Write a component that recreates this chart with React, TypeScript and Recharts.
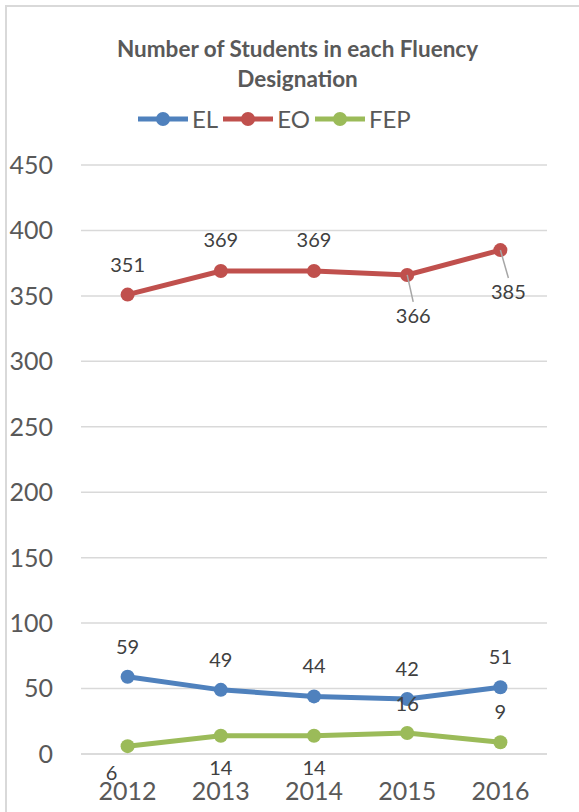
import React from "react";
import { LineChart, Line, XAxis, YAxis, CartesianGrid, Legend, LabelList } from "recharts";

const years = ["2012", "2013", "2014", "2015", "2016"];
const elValues = [59, 49, 44, 42, 51];
const eoValues = [351, 369, 369, 366, 385];
const fepValues = [6, 14, 14, 16, 9];
const yTicks = [0, 50, 100, 150, 200, 250, 300, 350, 400, 450];

const data = years.map((year, i) => ({
  year,
  EL: elValues[i],
  EO: eoValues[i],
  FEP: fepValues[i],
}));

const FONT = "Lato, 'Open Sans', sans-serif";

const series = [
  { key: "EL", color: "#4F81BD" },
  { key: "EO", color: "#C0504D" },
  { key: "FEP", color: "#9BBB59" },
];

// label placement per series, [dx, dy, leader line]
const labelPlacement: Record<string, [number, number, boolean][]> = {
  EL: [[0, -31, false], [0, -31, false], [0, -31, false], [0, -31, false], [0, -31, false]],
  EO: [[0, -31, false], [0, -32, false], [0, -32, false], [6, 40, true], [8, 41, true]],
  FEP: [[-16, 26, false], [0, 31, false], [0, 31, false], [0, -30, false], [0, -31, false]],
};

const makeLabel = (key: string) => (props: any) => {
  const { x, y, value, index } = props;
  const [dx, dy, leader] = labelPlacement[key][index];
  return (
    <g>
      {leader && (
        <line
          x1={x}
          y1={y}
          x2={x + dx}
          y2={y + dy - 13}
          stroke="#a6a6a6"
          strokeWidth={1.5}
        />
      )}
      <text
        x={x + dx}
        y={y + dy}
        textAnchor="middle"
        dominantBaseline="central"
        fill="#404040"
        fontSize={20}
        fontFamily={FONT}
      >
        {value}
      </text>
    </g>
  );
};

const renderLegend = () => (
  <div style={{ display: "flex", alignItems: "center", fontFamily: FONT, fontSize: 24, color: "#595959" }}>
    {series.map((s) => (
      <div key={s.key} style={{ display: "flex", alignItems: "center", marginRight: 5 }}>
        <svg width={50} height={16}>
          <line x1={0} y1={8} x2={50} y2={8} stroke={s.color} strokeWidth={5} />
          <circle cx={25} cy={8} r={7} fill={s.color} />
        </svg>
        <span style={{ marginLeft: 4 }}>{s.key}</span>
      </div>
    ))}
  </div>
);

export default function App() {
  return (
    <div style={{ position: "absolute", left: 0, top: 0, width: 579, height: 812, background: "#fff", overflow: "hidden" }}>
      <div
        style={{
          position: "absolute",
          left: 5,
          top: 5,
          width: 600,
          height: 820,
          borderTop: "2px solid #d9d9d9",
          borderLeft: "2px solid #d9d9d9",
        }}
      />
      <div
        style={{
          position: "absolute",
          left: 0,
          top: 34,
          width: 595,
          textAlign: "center",
          fontFamily: FONT,
          fontWeight: 700,
          fontSize: 22.5,
          lineHeight: "30px",
          color: "#595959",
        }}
      >
        Number of Students in each Fluency
        <br />
        Designation
      </div>
      <LineChart
        width={579}
        height={812}
        data={data}
        margin={{ top: 165, right: 32, bottom: 0, left: 0 }}
        style={{ position: "absolute", left: 0, top: 0 }}
      >
        <CartesianGrid vertical={false} stroke="#d9d9d9" strokeWidth={1.5} />
        <XAxis
          dataKey="year"
          padding={{ left: 46.6, right: 46.6 }}
          axisLine={{ stroke: "#d9d9d9", strokeWidth: 1.5 }}
          tickLine={false}
          tickMargin={22}
          height={58}
          tick={{ fill: "#595959", fontSize: 25, fontFamily: FONT }}
        />
        <YAxis
          domain={[0, 450]}
          ticks={yTicks}
          width={81}
          axisLine={false}
          tickLine={false}
          tickMargin={22}
          tick={{ fill: "#595959", fontSize: 25, fontFamily: FONT }}
        />
        <Legend
          verticalAlign="middle"
          content={renderLegend}
          wrapperStyle={{ position: "absolute", top: 104, left: 138, width: "auto" }}
        />
        {series.map((s) => (
          <Line
            key={s.key}
            dataKey={s.key}
            stroke={s.color}
            strokeWidth={5}
            dot={{ r: 7, fill: s.color, stroke: s.color, strokeWidth: 0 }}
            activeDot={false}
            isAnimationActive={false}
          >
            <LabelList dataKey={s.key} content={makeLabel(s.key)} />
          </Line>
        ))}
      </LineChart>
    </div>
  );
}
